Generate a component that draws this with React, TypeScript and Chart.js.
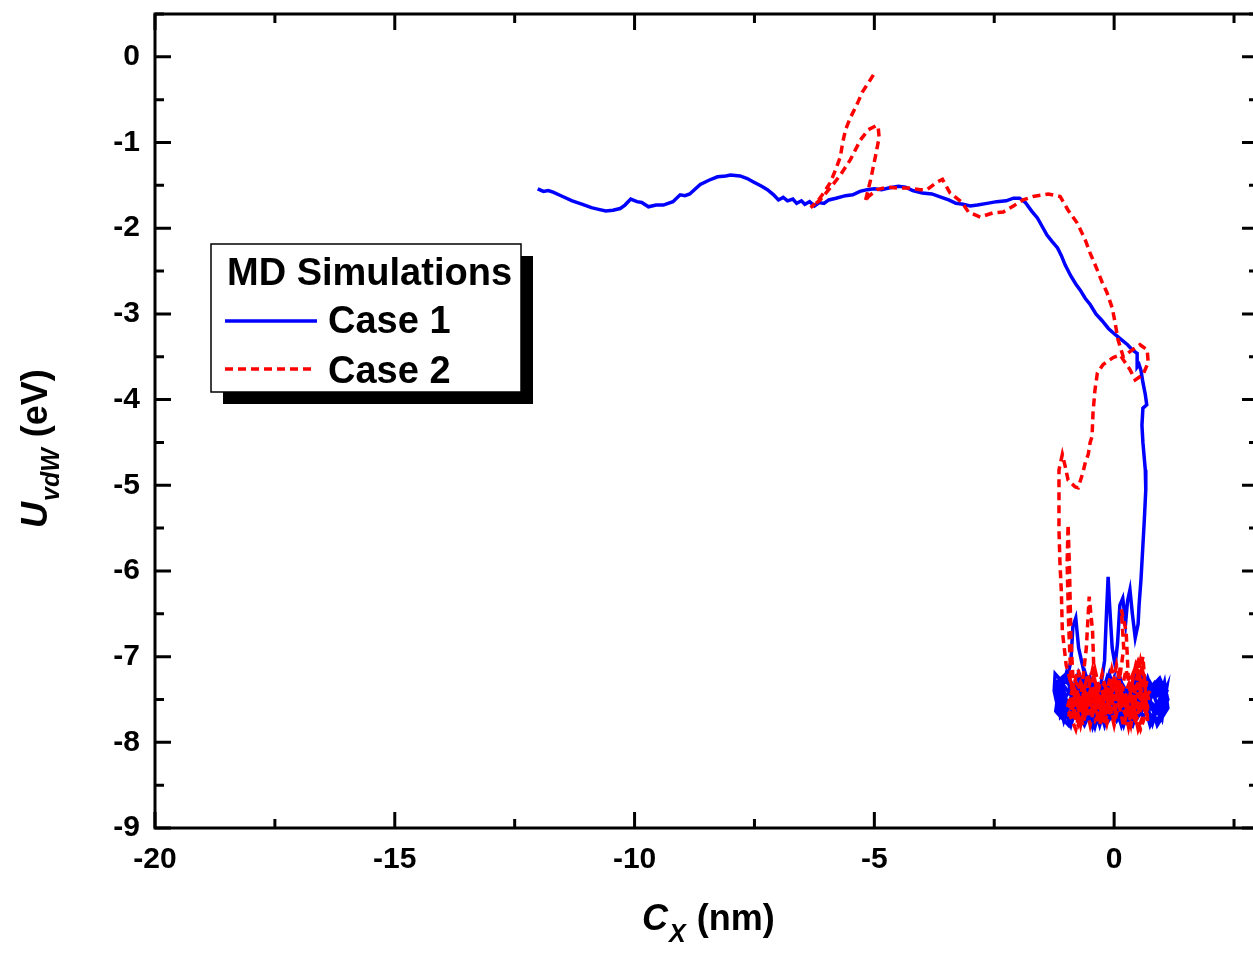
import React, { useEffect, useRef } from "react";
import { Chart, registerables } from "chart.js";

Chart.register(...registerables);

const FONT = '"Liberation Sans", Arial, Helvetica, sans-serif';

const xMin = -20;
const xMax = 3;
const yMin = -9;
const yMax = 0.5;
const xMajorStep = 5;
const xMinorStep = 2.5;
const yMajorStep = 1;
const yMinorStep = 0.5;

const legendTitle = "MD Simulations";
const seriesNames = ["Case 1", "Case 2"];
const seriesColors = ["#0000ff", "#ff0000"];

// Case 1 (blue, solid)
const case1X = [
  -12.02, -11.9, -11.8, -11.7, -11.5, -11.3, -11.1, -10.9, -10.75, -10.6, -10.45, -10.3, -10.2, -10.08, -9.95,
  -9.85, -9.71, -9.55, -9.4, -9.2, -9.05, -8.95, -8.85, -8.63, -8.45, -8.27, -8.1, -8.0, -7.8, -7.65, -7.52,
  -7.35, -7.23, -7.1, -7.0, -6.9, -6.81, -6.7, -6.62, -6.52, -6.45, -6.35, -6.25, -6.15, -6.05, -5.95, -5.8,
  -5.6, -5.45, -5.3, -5.15, -5.0, -4.85, -4.7, -4.5, -4.35, -4.2, -4.0, -3.8, -3.6, -3.45, -3.3, -3.15, -3.0,
  -2.85, -2.65, -2.45, -2.25, -2.1, -1.97, -1.85, -1.72, -1.6, -1.5, -1.4, -1.3, -1.18, -1.1, -1.02, -0.9,
  -0.8, -0.71, -0.6, -0.5, -0.38, -0.25, -0.12, 0.02, 0.15, 0.28, 0.38, 0.48, 0.48, 0.52, 0.56, 0.6, 0.65,
  0.68, 0.6, 0.58, 0.6, 0.65, 0.66, 0.63, 0.6, 0.56, 0.52, 0.5, 0.44, 0.38, 0.33, 0.28, 0.24, 0.18, 0.12,
  0.07, 0.02, -0.04, -0.1, -0.125, -0.16, -0.2, -0.28, -0.45, -0.62, -0.74, -0.8, -0.86, -0.9, -1.0, -1.15,
  -1.23, -1.25, -1.18, -1.05, -0.8, -0.6, -0.4, -0.15, 0.1, 0.35, 0.55, 0.75, 0.9, 1.05, 1.12, 1.0, 0.8, 0.6,
  0.4, 0.2, -0.05, -0.3, -0.55, -0.8, -1.0, -1.1, -0.9, -0.7, -0.45, -0.2, 0.05, 0.3, 0.5, 0.7, 0.95, 1.1,
  0.85, 0.6, 0.35, 0.1, -0.15, -0.4, -0.65, -0.95, -1.15, -0.95, -0.7, -0.45, -0.2, 0.05, 0.3, 0.55, 0.8, 1.0,
  0.9, 0.65, 0.4, 0.15, -0.1, -0.35, -0.6, -0.85,
  -0.6, -0.35, -0.1, 0.15, 0.45, 0.7, 0.95, 1.08, 0.88, 0.62, 0.38, 0.12, -0.12, -0.38, -0.62, -0.88, -1.12,
  -1.2, -1.0, -0.75, -0.5, -0.25, 0.0, 0.25, 0.5, 0.75, 1.0, 1.1, 0.95, 0.7, 0.45, 0.2, -0.05, -0.3, -0.55,
  -0.8, -1.05, -1.2,
  -0.95, -0.7, -0.4, -0.1, 0.2, 0.5, 0.8, 1.05, 1.12, 0.9, 0.6, 0.3, 0.0, -0.3, -0.6, -0.9, -1.15, -1.22,
  -1.0, -0.75, -0.5, -0.2, 0.1, 0.4, 0.7, 1.0, 1.1, 0.75, 0.45, 0.15, -0.15, -0.45, -0.75, -1.05, -1.2,
];
const case1Y = [
  -1.54, -1.57, -1.56, -1.58, -1.63, -1.68, -1.72, -1.76, -1.78, -1.8, -1.79, -1.77, -1.73, -1.66, -1.69,
  -1.7, -1.75, -1.73, -1.73, -1.69, -1.61, -1.62, -1.6, -1.49, -1.44, -1.4, -1.39, -1.38, -1.39, -1.42, -1.46,
  -1.51, -1.55, -1.61, -1.67, -1.64, -1.68, -1.66, -1.71, -1.68, -1.72, -1.69, -1.74, -1.7, -1.71, -1.67, -1.65,
  -1.62, -1.61, -1.57, -1.55, -1.54, -1.55, -1.53, -1.51, -1.52, -1.56, -1.59, -1.6, -1.64, -1.67, -1.71, -1.72, -1.74,
  -1.73, -1.71, -1.69, -1.68, -1.65, -1.65, -1.7, -1.8, -1.88, -1.98, -2.08, -2.15, -2.23, -2.32, -2.43, -2.56,
  -2.65, -2.72, -2.82, -2.89, -3.0, -3.08, -3.17, -3.24, -3.3, -3.36, -3.42, -3.46, -3.62, -3.59, -3.66, -3.8, -3.94,
  -4.06, -4.1, -4.3, -4.5, -4.82, -5.05, -5.4, -5.7, -6.1, -6.4, -6.62, -6.78, -6.5, -6.22, -6.35, -6.6, -6.32, -6.4,
  -6.85, -7.1, -6.9, -6.35, -6.07, -6.5, -7.05, -7.35, -7.3, -7.2, -6.9, -6.55, -6.65, -7.05, -7.3, -7.25,
  -7.2, -7.4, -7.58, -7.7, -7.6, -7.75, -7.55, -7.7, -7.5, -7.65, -7.45, -7.3, -7.45, -7.35, -7.5, -7.65, -7.55, -7.7,
  -7.45, -7.6, -7.4, -7.65, -7.45, -7.7, -7.5, -7.3, -7.45, -7.6, -7.8, -7.55, -7.75, -7.5, -7.7, -7.5, -7.65, -7.4,
  -7.3, -7.5, -7.35, -7.55, -7.3, -7.5, -7.35, -7.6, -7.45, -7.75, -7.5, -7.65, -7.45, -7.6, -7.8, -7.55, -7.7, -7.55,
  -7.35, -7.6, -7.4, -7.65, -7.5, -7.7, -7.55, -7.4,
  -7.25, -7.5, -7.3, -7.55, -7.25, -7.45, -7.3, -7.6, -7.75, -7.6, -7.8, -7.55, -7.75, -7.5, -7.8, -7.55, -7.7,
  -7.3, -7.2, -7.45, -7.25, -7.6, -7.35, -7.7, -7.4, -7.6, -7.7, -7.45, -7.25, -7.4, -7.6, -7.35, -7.7, -7.45, -7.6,
  -7.3, -7.5, -7.65,
  -7.8, -7.25, -7.82, -7.2, -7.8, -7.22, -7.78, -7.3, -7.6, -7.8, -7.2, -7.78, -7.25, -7.8, -7.2, -7.8, -7.35, -7.65,
  -7.2, -7.75, -7.25, -7.8, -7.2, -7.78, -7.25, -7.72, -7.35, -7.8, -7.2, -7.8, -7.25, -7.82, -7.2, -7.75, -7.4,
];

// Case 2 (red, dashed)
const case2X = [
  -5.02, -5.12, -5.25, -5.35, -5.5, -5.6, -5.66, -5.71, -5.81, -5.92, -6.06, -6.19, -6.33, -6.13, -5.92, -5.71,
  -5.5, -5.29, -5.125, -4.95, -4.92, -4.9, -4.98, -5.08, -5.19, -5.125, -4.94, -4.73, -4.52, -4.29, -4.04, -3.9,
  -3.69, -3.58, -3.42, -3.17, -3.04, -2.79, -2.52, -2.31, -2.1, -1.9, -1.69, -1.375, -1.125, -0.96, -0.77, -0.6,
  -0.5, -0.35, -0.25, -0.15, -0.04, 0.02, 0.08, 0.19, 0.33, 0.54, 0.69, 0.71, 0.6, 0.44, 0.33, 0.125, -0.02,
  -0.23, -0.35, -0.4, -0.44, -0.46, -0.5, -0.54, -0.6, -0.65, -0.75, -0.81, -0.96, -1.02, -1.08, -1.15, -1.15,
  -1.15, -1.13, -1.1, -1.08, -1.0, -0.9, -0.95, -0.98, -0.96, -0.93, -0.9, -0.85, -0.7, -0.58, -0.52, -0.45,
  -0.42, -0.3, -0.9, -0.7, -0.45, -0.2, 0.05, 0.25, 0.5, 0.65, 0.45, 0.2, -0.05, -0.3, -0.55, -0.8, -0.95, -0.7,
  -0.45, -0.2, 0.0, 0.2, 0.15, 0.25, 0.3, 0.55, 0.7, 0.55, 0.35, 0.1, -0.15, -0.4, -0.65, -0.85, -0.6, -0.35,
  -0.1, 0.15, 0.4, 0.6, 0.75, 0.5, 0.25, 0.0, -0.25, -0.5, -0.75, -0.9, -0.65, -0.4, -0.15, 0.1, 0.35, 0.6, 0.45,
  0.3, 0.0,
  -0.25, -0.5, -0.8, -0.95, -0.75, -0.5, -0.25, 0.0, 0.25, 0.5, 0.7, 0.55, 0.3, 0.05, -0.2, -0.45, -0.7, -0.92,
  -0.8, -0.55, -0.3, -0.05, 0.2, 0.45, 0.68, 0.5, 0.25, 0.0, -0.25, -0.5, -0.75,
  -0.95, -0.7, -0.45, -0.2, 0.05, 0.3, 0.55, 0.72, 0.5, 0.25, 0.0, -0.25, -0.5, -0.75, -0.98, -0.8, -0.55, -0.3,
  -0.05, 0.2, 0.45, 0.7, 0.6, 0.35, 0.1, -0.15, -0.4, -0.65, -0.9,
];
const case2Y = [
  -0.21, -0.3, -0.41, -0.54, -0.71, -0.85, -1.0, -1.17, -1.32, -1.47, -1.59, -1.69, -1.76, -1.67, -1.53, -1.38,
  -1.2, -0.97, -0.85, -0.8, -0.82, -0.94, -1.17, -1.44, -1.69, -1.63, -1.55, -1.52, -1.53, -1.53, -1.55, -1.55,
  -1.46, -1.43, -1.59, -1.7, -1.81, -1.87, -1.82, -1.81, -1.74, -1.67, -1.63, -1.6, -1.63, -1.79, -1.94, -2.14,
  -2.29, -2.49, -2.63, -2.75, -2.93, -3.1, -3.3, -3.5, -3.44, -3.36, -3.42, -3.57, -3.71, -3.77, -3.65, -3.48, -3.51,
  -3.59, -3.69, -3.89, -4.15, -4.43, -4.5, -4.64, -4.73, -4.85, -5.03, -5.02, -4.94, -4.78, -4.64, -4.82, -5.13,
  -5.52, -5.9, -6.25, -6.7, -7.1, -7.3, -6.6, -5.9, -5.46, -6.0, -6.8, -7.35, -7.5, -6.9, -6.3, -6.7,
  -7.2, -7.6, -7.55, -7.75, -7.45, -7.7, -7.3, -7.6, -7.2, -7.5, -7.75, -7.4, -7.65, -7.35, -7.6, -7.4, -7.7, -7.3,
  -7.6, -7.4, -7.75, -6.9, -6.45, -6.7, -7.3, -7.05, -7.6, -7.85, -7.5, -7.6, -7.5, -7.75, -7.45, -7.65, -7.35, -7.55,
  -7.3, -7.55, -7.35, -7.55, -7.4, -7.6, -7.45, -7.6, -7.45, -7.7, -7.55, -7.35, -7.65, -7.4, -7.6, -7.4, -7.65, -7.35, -7.1,
  -7.45, -7.5,
  -7.3, -7.55, -7.3, -7.55, -7.8, -7.45, -7.7, -7.35, -7.65, -7.3, -7.7, -7.5, -7.75, -7.45, -7.65, -7.35, -7.6, -7.45,
  -7.7, -7.5, -7.7, -7.35, -7.55, -7.75, -7.3, -7.05, -7.4, -7.25, -7.55, -7.4, -7.6,
  -7.2, -7.8, -7.15, -7.8, -7.1, -7.82, -7.05, -7.5, -7.85, -7.15, -7.8, -7.2, -7.8, -7.15, -7.6, -7.85, -7.2, -7.8,
  -7.15, -7.82, -7.1, -7.75, -7.0, -7.8, -7.2, -7.78, -7.15, -7.8, -7.3,
];

function toPoints(xs: number[], ys: number[]) {
  const n = Math.min(xs.length, ys.length);
  const out: { x: number; y: number }[] = [];
  for (let i = 0; i < n; i++) out.push({ x: xs[i], y: ys[i] });
  return out;
}

const framePlugin = {
  id: "frameAndDecor",
  afterDraw(chart: any) {
    const { ctx, chartArea: a, scales } = chart;
    const xs = scales.x;
    const ys = scales.y;
    ctx.save();
    ctx.strokeStyle = "#000";
    ctx.lineWidth = 3;
    ctx.strokeRect(a.left, a.top, a.right - a.left, a.bottom - a.top);
    const majLen = 16;
    const minLen = 9;
    const nx = Math.round((xMax - xMin) / xMinorStep);
    for (let i = 0; i <= nx; i++) {
      const v = xMin + i * xMinorStep;
      if (v > xMax) break;
      const px = xs.getPixelForValue(v);
      const isMajor = Math.abs(v / xMajorStep - Math.round(v / xMajorStep)) < 1e-6;
      const len = isMajor ? majLen : minLen;
      ctx.beginPath();
      ctx.moveTo(px, a.bottom);
      ctx.lineTo(px, a.bottom - len);
      ctx.moveTo(px, a.top);
      ctx.lineTo(px, a.top + len);
      ctx.stroke();
    }
    const ny = Math.round((yMax - yMin) / yMinorStep);
    for (let i = 0; i <= ny; i++) {
      const v = yMin + i * yMinorStep;
      if (v > yMax) break;
      const py = ys.getPixelForValue(v);
      const isMajor = Math.abs(v / yMajorStep - Math.round(v / yMajorStep)) < 1e-6;
      const len = isMajor ? majLen : minLen;
      ctx.beginPath();
      ctx.moveTo(a.left, py);
      ctx.lineTo(a.left + len, py);
      ctx.moveTo(a.right, py);
      ctx.lineTo(a.right - len, py);
      ctx.stroke();
    }

    // X axis title: C_X (nm)
    ctx.fillStyle = "#000";
    ctx.textBaseline = "alphabetic";
    ctx.textAlign = "left";
    const big = 36;
    const small = 25;
    const fBigI = `italic bold ${big}px ${FONT}`;
    const fSmallI = `italic bold ${small}px ${FONT}`;
    const fBig = `bold ${big}px ${FONT}`;
    let tx = 634;
    const tyBase = 922;
    ctx.font = fBigI;
    ctx.fillText("C", tx, tyBase);
    tx += ctx.measureText("C").width + 1;
    ctx.font = fSmallI;
    ctx.fillText("X", tx, tyBase + 12);
    tx += ctx.measureText("X").width + 1;
    ctx.font = fBig;
    ctx.fillText(" (nm)", tx, tyBase);

    // Y axis title: U_vdW (eV), rotated
    ctx.save();
    ctx.translate(39, 520);
    ctx.rotate(-Math.PI / 2);
    let ty = 0;
    ctx.font = fBigI;
    ctx.fillText("U", ty, 0);
    ty += ctx.measureText("U").width + 1;
    ctx.font = fSmallI;
    ctx.fillText("vdW", ty, 12);
    ty += ctx.measureText("vdW").width + 1;
    ctx.font = fBig;
    ctx.fillText(" (eV)", ty, 0);
    ctx.restore();

    // Legend box with shadow
    const lx = 203, ly = 236, lw = 310, lh = 148;
    ctx.fillStyle = "#000";
    ctx.fillRect(lx + 12, ly + 12, lw, lh);
    ctx.fillStyle = "#fff";
    ctx.fillRect(lx, ly, lw, lh);
    ctx.strokeStyle = "#000";
    ctx.lineWidth = 1.5;
    ctx.strokeRect(lx, ly, lw, lh);
    ctx.fillStyle = "#000";
    ctx.font = `bold 38px ${FONT}`;
    ctx.fillText(legendTitle, 219, 277);
    ctx.fillText(seriesNames[0], 320, 325);
    ctx.fillText(seriesNames[1], 320, 375);
    ctx.lineWidth = 3.5;
    ctx.strokeStyle = seriesColors[0];
    ctx.beginPath();
    ctx.moveTo(217, 313);
    ctx.lineTo(309, 313);
    ctx.stroke();
    ctx.strokeStyle = seriesColors[1];
    ctx.setLineDash([8, 5]);
    ctx.beginPath();
    ctx.moveTo(217, 361);
    ctx.lineTo(306, 361);
    ctx.stroke();
    ctx.setLineDash([]);
    ctx.restore();
  },
};

export default function App() {
  const ref = useRef<HTMLCanvasElement | null>(null);
  useEffect(() => {
    if (!ref.current) return;
    const chart = new Chart(ref.current, {
      type: "scatter",
      data: {
        datasets: [
          {
            label: seriesNames[1],
            data: toPoints(case2X, case2Y),
            showLine: true,
            borderColor: seriesColors[1],
            borderWidth: 3.5,
            borderDash: [8, 5],
            pointRadius: 0,
            tension: 0,
            order: 0,
          },
          {
            label: seriesNames[0],
            data: toPoints(case1X, case1Y),
            showLine: true,
            borderColor: seriesColors[0],
            borderWidth: 3.5,
            pointRadius: 0,
            tension: 0,
            order: 1,
          },
        ],
      },
      options: {
        animation: false,
        responsive: false,
        devicePixelRatio: 1,
        layout: { padding: { top: 6, right: 12, left: 0, bottom: 0 } },
        plugins: { legend: { display: false }, tooltip: { enabled: false }, title: { display: false } },
        scales: {
          x: {
            type: "linear",
            min: xMin,
            max: xMax,
            grid: { display: false, drawTicks: false },
            border: { display: false },
            ticks: {
              stepSize: xMajorStep,
              includeBounds: false,
              padding: 14,
              color: "#000",
              font: { family: FONT, size: 30, weight: "bold" },
              maxRotation: 0,
            },
            afterFit: (s: any) => {
              s.height = 126;
              s.paddingLeft = 0;
              s.paddingRight = 0;
            },
          },
          y: {
            type: "linear",
            min: yMin,
            max: yMax,
            grid: { display: false, drawTicks: false },
            border: { display: false },
            ticks: {
              stepSize: yMajorStep,
              includeBounds: false,
              padding: 15,
              color: "#000",
              font: { family: FONT, size: 30, weight: "bold" },
            },
            afterFit: (s: any) => {
              s.width = 147;
              s.paddingTop = 0;
              s.paddingBottom = 0;
            },
          },
        },
      },
      plugins: [framePlugin],
    } as any);
    return () => chart.destroy();
  }, []);
  return (
    <div style={{ position: "absolute", left: 8, top: 8, width: 1245, height: 946, overflow: "hidden", background: "#fff" }}>
      <canvas ref={ref} width={1262} height={946} style={{ display: "block" }} />
    </div>
  );
}
